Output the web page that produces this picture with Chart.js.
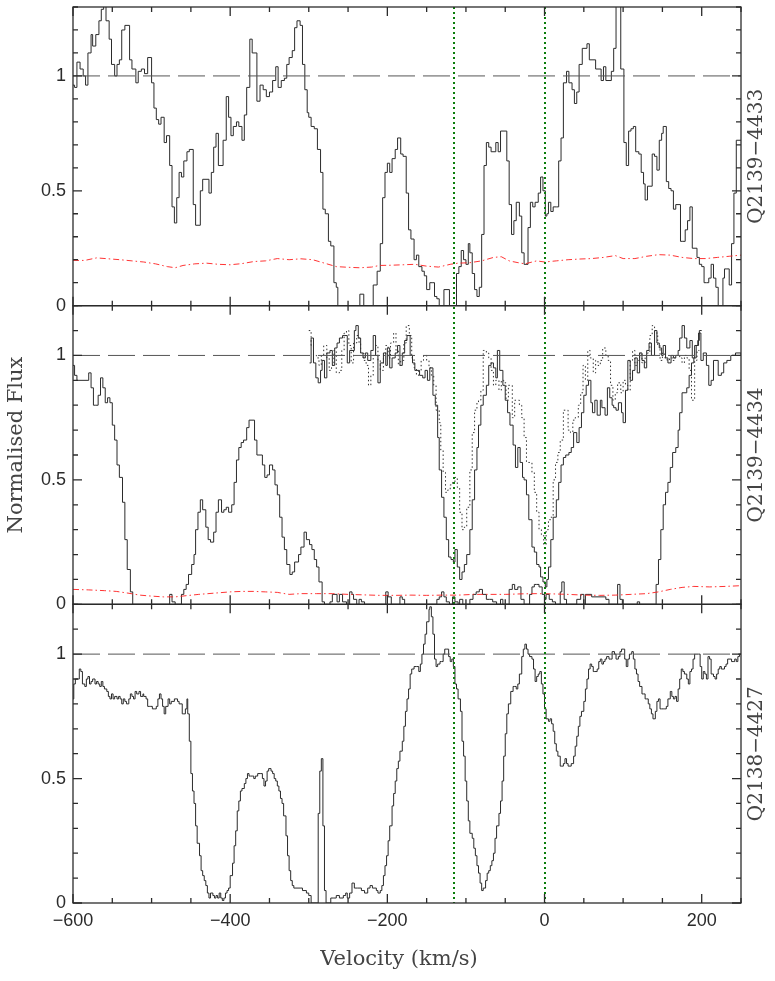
<!DOCTYPE html>
<html>
<head>
<meta charset="utf-8">
<title>Normalised flux - Q2139-4433 / Q2139-4434 / Q2138-4427</title>
<script src="https://cdn.jsdelivr.net/npm/chart.js@4.4.1/dist/chart.umd.min.js"></script>
<style>
    html, body { margin: 0; padding: 0; background: #fff; }
    #wrap { position: relative; width: 775px; height: 981px; }
</style>
</head>
<body>
<div id="wrap"><canvas id="spectra" width="775" height="981"></canvas></div>
<script>
// ================================================================
// DATA (velocity in km/s, normalised flux)
// ================================================================
const panelNames   = ['Q2139\u22124433', 'Q2139\u22124434', 'Q2138\u22124427'];
const panelMax     = [1.3, 1.2, 1.2];
const xTickLabels  = [-600, -400, -200, 0, 200];
const yTickLabels  = [0, 0.5, 1];
const markerVels   = [-115, 0];

// Q2139-4433
const topVel  = [-600,-598,-595,-591,-587,-584,-581,-577,-575,-571,-567,-564,-561,-558,-554,-551,-547,-544,-541,-538,-534,-528,-525,-520,-517,-513,-509,-505,-500,-497,-494,-491,-488,-484,-481,-477,-474,-471,-468,-465,-462,-459,-455,-452,-447,-444,-438,-435,-427,-424,-421,-418,-415,-409,-405,-402,-399,-396,-392,-389,-385,-382,-379,-375,-372,-366,-362,-358,-354,-350,-346,-342,-339,-335,-331,-328,-325,-321,-318,-315,-311,-308,-305,-302,-300,-297,-293,-289,-285,-282,-279,-275,-272,-268,-265,-263,-235,-230,-218,-213,-209,-206,-203,-200,-197,-194,-190,-187,-183,-180,-176,-173,-170,-166,-163,-160,-156,-153,-150,-146,-143,-140,-137,-134,-128,-121,-112,-109,-106,-103,-100,-97,-95,-92,-89,-86,-83,-80,-77,-74,-71,-68,-62,-59,-56,-48,-45,-42,-39,-36,-32,-29,-26,-21,-18,-15,-12,-8,-5,-2,1,3,5,8,11,15,18,21,24,28,31,35,38,41,44,48,54,57,65,72,75,78,85,88,91,97,101,104,107,110,113,116,120,123,126,128,131,137,140,143,146,149,151,155,158,161,164,167,173,176,179,182,185,188,194,197,200,203,206,209,212,215,218,221,227,229,232,235,238,241,244,250];
const topFlux = [0.96,0.95,1.06,1.03,1.00,0.96,1.10,1.18,1.13,1.18,1.24,1.29,1.34,1.24,1.16,1.05,1.00,1.05,1.07,1.20,1.22,1.07,1.03,0.97,1.02,1.03,1.01,1.08,0.97,0.86,0.81,0.79,0.82,0.71,0.74,0.61,0.43,0.36,0.47,0.58,0.56,0.63,0.67,0.68,0.44,0.35,0.50,0.55,0.49,0.58,0.69,0.75,0.61,0.72,0.91,0.82,0.74,0.78,0.80,0.78,0.72,0.83,0.95,1.16,1.10,0.89,0.96,0.94,0.91,0.93,0.98,1.04,0.95,0.98,0.99,1.05,1.08,1.11,1.21,1.24,1.22,1.05,0.94,0.84,0.82,0.78,0.77,0.68,0.58,0.42,0.40,0.28,0.26,0.10,0.08,0.00,0.05,0.00,0.09,0.15,0.27,0.47,0.58,0.62,0.58,0.64,0.68,0.73,0.66,0.65,0.49,0.33,0.29,0.20,0.22,0.17,0.15,0.13,0.07,0.10,0.10,0.04,0.03,0.00,0.07,0.00,0.14,0.17,0.24,0.20,0.18,0.27,0.23,0.14,0.07,0.04,0.08,0.31,0.61,0.71,0.69,0.67,0.71,0.67,0.76,0.63,0.44,0.31,0.37,0.45,0.39,0.23,0.18,0.34,0.45,0.43,0.45,0.49,0.56,0.50,0.39,0.40,0.45,0.41,0.43,0.43,0.63,0.73,0.97,1.02,0.97,0.94,0.88,0.93,1.05,1.12,1.14,1.07,1.03,0.98,1.04,0.98,1.02,1.12,1.35,1.03,0.71,0.61,0.76,0.77,0.78,0.67,0.66,0.58,0.53,0.46,0.52,0.66,0.65,0.59,0.72,0.75,0.78,0.54,0.51,0.50,0.42,0.44,0.28,0.28,0.33,0.37,0.43,0.25,0.21,0.18,0.17,0.10,0.10,0.12,0.18,0.12,0.08,0.00,0.12,0.16,0.16,0.09,0.27,0.49,0.72,0.72];
const topErrVel  = [-600,-585,-570,-555,-540,-525,-510,-495,-480,-470,-460,-445,-430,-415,-400,-385,-370,-355,-340,-325,-310,-295,-280,-265,-250,-235,-220,-210,-195,-180,-165,-150,-135,-120,-110,-95,-80,-65,-55,-45,-35,-25,-10,0,15,30,45,60,75,90,100,115,130,145,160,175,190,205,220,235,250];
const topErrFlux = [0.197,0.197,0.208,0.204,0.200,0.195,0.190,0.182,0.170,0.165,0.175,0.182,0.185,0.180,0.178,0.183,0.192,0.195,0.205,0.200,0.204,0.200,0.185,0.170,0.167,0.165,0.168,0.175,0.176,0.178,0.180,0.172,0.168,0.180,0.185,0.187,0.195,0.210,0.213,0.195,0.188,0.182,0.195,0.190,0.195,0.200,0.203,0.205,0.210,0.218,0.205,0.205,0.215,0.222,0.220,0.210,0.205,0.205,0.210,0.215,0.220];

// Q2139-4434 : three profiles + error
const midVelA  = [-600,-598,-595,-580,-577,-574,-571,-568,-565,-562,-559,-556,-553,-550,-547,-544,-541,-537,-534,-531,-527,-524,-477,-474,-470,-462,-459,-456,-453,-449,-446,-444,-441,-438,-435,-431,-428,-425,-421,-418,-415,-411,-408,-405,-402,-398,-395,-392,-389,-386,-383,-379,-376,-369,-366,-359,-356,-353,-350,-346,-343,-340,-337,-334,-331,-328,-324,-321,-318,-313,-310,-306,-303,-299,-296,-293,-290,-287,-283,-280,-273,-270,-264,-261,-257,-252,-248,-245,-243,-239,-236,-233,-229,-202,-199,-195,-184,-181,-178,-137,-134,-131,-128,-125,-121,-117,-114,-110,-108,-104,-95,-91,-87,-83,-79,-74,-70,-66,-61,-56,-53,-45,-41,-38,-34,-30,-26,-19,-16,-13,-10,-7,-3,0,2,6,10,14,20,22,25,28,41,46,50,52,60,78,82,93,96,99,118,121,142,145,148,151,154,157,160,163,167,170,172,175,181,184,187,190,193,196,199,202,206,209,212,215,221,225,228,232,237,243,250];
const midFluxA = [0.96,0.92,0.90,0.93,0.87,0.80,0.80,0.84,0.91,0.87,0.81,0.83,0.81,0.72,0.66,0.56,0.51,0.41,0.26,0.14,0.05,0.00,0.04,0.01,0.00,0.04,0.06,0.08,0.12,0.16,0.20,0.30,0.37,0.42,0.38,0.31,0.26,0.25,0.29,0.37,0.42,0.37,0.38,0.39,0.37,0.40,0.49,0.58,0.63,0.65,0.66,0.71,0.74,0.66,0.60,0.56,0.51,0.52,0.56,0.54,0.48,0.44,0.35,0.27,0.22,0.16,0.12,0.13,0.17,0.20,0.23,0.29,0.26,0.24,0.22,0.18,0.15,0.09,0.01,0.00,0.01,0.04,0.01,0.04,0.01,0.00,0.05,0.04,0.02,0.00,0.02,0.01,0.00,0.05,0.03,0.00,0.03,0.02,0.00,0.02,0.03,0.05,0.03,0.01,0.00,0.03,0.01,0.00,0.02,0.00,0.02,0.04,0.05,0.06,0.04,0.02,0.02,0.01,0.00,0.02,0.00,0.06,0.08,0.06,0.07,0.02,0.00,0.04,0.07,0.08,0.08,0.07,0.04,0.02,0.04,0.02,0.01,0.00,0.05,0.09,0.02,0.00,0.02,0.04,0.00,0.04,0.03,0.02,0.00,0.08,0.02,0.00,0.01,0.00,0.08,0.18,0.30,0.40,0.45,0.49,0.55,0.61,0.63,0.70,0.77,0.85,0.87,0.92,0.97,0.99,1.04,1.09,0.98,1.01,0.96,0.88,0.90,0.98,0.92,0.93,0.97,0.98,1.00,1.01,1.00];
const midVelB  = [-299,-297,-294,-291,-288,-285,-283,-280,-277,-273,-270,-267,-264,-261,-257,-254,-251,-248,-242,-240,-237,-234,-231,-228,-225,-221,-218,-215,-212,-209,-205,-202,-200,-197,-194,-190,-187,-184,-181,-178,-175,-171,-168,-165,-159,-155,-152,-149,-146,-142,-139,-136,-134,-131,-128,-125,-122,-119,-116,-114,-111,-108,-105,-102,-99,-95,-92,-89,-86,-84,-81,-78,-74,-71,-68,-65,-62,-60,-57,-53,-50,-47,-44,-40,-37,-34,-31,-28,-26,-23,-20,-16,-13,-10,-7,-5,-2,1,3,5,8,11,15,18,21,24,27,31,34,37,41,44,47,50,53,56,59,61,64,67,71,73,77,80,83,86,88,91,94,98,100,103,106,109,112,115,118,121,124,127,130,133,136,140,143,146,149,151,154,157,161,164,167,170,172,175,178,181,185,188,191,195,197,200];
const midFluxB = [0.97,1.07,0.97,0.91,0.89,0.94,0.98,0.91,1.01,1.02,0.96,1.03,1.05,1.07,1.08,1.08,0.97,1.02,1.10,1.12,1.07,1.01,0.99,1.01,0.98,1.02,1.08,1.00,0.89,0.97,1.01,0.96,1.03,0.95,0.99,1.01,1.04,0.96,1.01,1.06,1.08,1.00,0.97,0.94,0.92,0.91,0.94,0.90,0.95,0.84,0.80,0.67,0.54,0.43,0.35,0.26,0.19,0.18,0.17,0.22,0.15,0.10,0.13,0.16,0.20,0.30,0.42,0.54,0.63,0.72,0.80,0.84,0.88,0.96,0.97,0.95,0.91,1.02,0.94,0.88,0.82,0.77,0.72,0.64,0.55,0.63,0.57,0.51,0.50,0.44,0.34,0.23,0.21,0.16,0.15,0.11,0.09,0.07,0.10,0.15,0.26,0.35,0.42,0.49,0.56,0.59,0.60,0.61,0.63,0.69,0.65,0.71,0.77,0.84,0.88,0.90,0.81,0.77,0.82,0.76,0.82,0.79,0.76,0.87,0.83,0.80,0.79,0.78,0.81,0.77,0.73,0.86,0.98,0.90,0.94,0.99,0.93,1.01,0.98,0.95,1.02,1.05,1.00,1.10,1.05,1.03,1.00,1.04,0.99,0.97,1.00,0.99,1.00,1.02,1.07,1.12,1.07,1.03,1.06,0.99,1.04,1.06,1.10,1.10];
const midVelC  = [-300,-297,-294,-290,-287,-284,-281,-277,-274,-271,-268,-265,-261,-258,-255,-252,-249,-246,-243,-239,-236,-234,-230,-227,-224,-221,-218,-215,-212,-209,-205,-202,-199,-196,-192,-189,-186,-183,-179,-176,-172,-169,-166,-163,-160,-157,-154,-150,-147,-144,-141,-138,-134,-132,-129,-126,-123,-120,-117,-114,-111,-108,-105,-102,-99,-95,-92,-89,-86,-84,-81,-78,-74,-71,-68,-65,-62,-58,-55,-52,-49,-46,-43,-41,-38,-35,-32,-29,-26,-23,-20,-16,-13,-10,-7,-4,-1,2,5,8,11,14,17,20,24,27,30,33,36,39,43,46,49,52,55,58,62,65,68,71,74,78,81,84,87,90,93,97,100,103,106,109,112,115,118,121,124,128,131,134,137,140,144,147,150,153,156,159,163,166,172,175,178,181,184,187,191,194,197];
const midFluxC = [1.10,1.04,1.00,0.99,0.96,1.00,1.04,0.99,0.94,0.96,1.02,0.93,0.94,1.02,1.09,1.10,1.04,0.97,1.05,1.08,1.05,1.01,0.98,0.96,0.88,0.92,1.00,1.04,0.98,0.94,1.00,1.04,0.99,1.05,1.09,1.02,0.96,0.98,1.05,1.12,1.08,0.99,0.95,0.92,0.94,0.98,1.00,0.98,0.95,0.92,0.88,0.78,0.73,0.62,0.53,0.45,0.46,0.48,0.49,0.51,0.47,0.37,0.30,0.31,0.39,0.54,0.69,0.78,0.81,0.82,0.86,1.02,1.01,0.99,0.94,0.88,0.90,0.86,0.90,0.89,0.82,0.88,0.88,0.75,0.82,0.82,0.80,0.75,0.67,0.57,0.57,0.53,0.45,0.37,0.30,0.28,0.24,0.30,0.34,0.35,0.50,0.57,0.61,0.66,0.78,0.78,0.70,0.69,0.74,0.75,0.80,0.85,0.96,0.90,1.02,0.99,0.93,0.98,0.96,0.98,1.03,1.00,0.98,0.88,0.82,0.85,0.89,0.85,0.90,0.88,0.86,0.98,1.02,0.96,0.98,1.01,0.97,1.00,1.01,1.08,1.12,1.09,1.04,0.98,1.01,0.99,0.98,0.99,0.98,1.00,0.99,0.97,1.00,0.99,0.94,0.82,0.98,1.02,1.02];
const midErrVel  = [-600,-580,-560,-545,-530,-515,-500,-485,-470,-455,-440,-420,-400,-385,-370,-355,-340,-325,-310,-290,-270,-250,-230,-210,-190,-170,-150,-130,-110,-90,-70,-50,-30,-10,10,30,50,70,90,110,130,145,160,175,190,210,230,250];
const midErrFlux = [0.060,0.058,0.055,0.052,0.045,0.037,0.033,0.030,0.030,0.035,0.040,0.045,0.050,0.052,0.052,0.050,0.048,0.040,0.043,0.043,0.043,0.040,0.038,0.036,0.036,0.037,0.036,0.037,0.037,0.040,0.040,0.040,0.042,0.043,0.042,0.040,0.037,0.036,0.037,0.040,0.043,0.050,0.060,0.068,0.072,0.070,0.072,0.075];

// Q2138-4427
const botVel  = [-600,-599,-597,-594,-592,-590,-588,-585,-583,-581,-579,-577,-575,-572,-570,-568,-566,-564,-562,-560,-557,-555,-553,-551,-549,-547,-544,-542,-540,-538,-536,-534,-532,-529,-527,-525,-523,-521,-519,-516,-514,-511,-510,-507,-505,-503,-501,-499,-496,-494,-492,-490,-488,-486,-484,-482,-479,-477,-475,-471,-467,-465,-461,-459,-457,-455,-454,-452,-450,-448,-446,-444,-442,-439,-437,-435,-433,-431,-429,-427,-425,-422,-420,-418,-416,-414,-412,-410,-408,-406,-404,-402,-400,-397,-395,-393,-391,-389,-387,-385,-382,-380,-378,-376,-374,-372,-370,-368,-365,-361,-359,-357,-355,-353,-351,-348,-346,-344,-342,-340,-338,-336,-334,-332,-329,-327,-325,-323,-321,-319,-310,-308,-303,-300,-297,-288,-286,-284,-282,-280,-278,-272,-269,-265,-261,-256,-253,-251,-248,-245,-242,-238,-233,-229,-225,-222,-219,-214,-212,-209,-207,-205,-203,-201,-199,-197,-194,-192,-190,-188,-186,-184,-181,-179,-177,-175,-173,-171,-169,-166,-163,-160,-158,-156,-154,-152,-150,-147,-146,-144,-142,-140,-138,-136,-133,-131,-129,-127,-125,-122,-120,-118,-116,-114,-112,-110,-107,-105,-103,-101,-99,-97,-95,-92,-90,-88,-86,-84,-82,-80,-78,-75,-73,-71,-69,-67,-65,-63,-61,-58,-56,-54,-52,-50,-48,-46,-43,-40,-38,-36,-34,-32,-29,-27,-25,-23,-21,-19,-16,-14,-12,-10,-8,-6,-4,-2,0,2,5,7,9,11,13,15,17,20,22,24,26,28,30,34,37,39,41,43,45,47,50,52,54,56,58,60,62,64,67,69,71,73,75,77,79,82,84,86,89,91,94,96,98,100,102,104,106,108,111,113,115,117,119,121,124,126,128,130,132,134,136,138,141,143,145,147,149,151,153,155,157,160,162,164,166,168,170,172,174,176,178,181,183,185,187,189,191,194,196,198,200,202,204,206,208,210,212,215,217,219,221,223,225,227,229,231,233,236,238,240,242,244,246,248,250];
const botFlux = [0.82,0.88,0.90,0.90,0.94,0.93,0.88,0.87,0.90,0.91,0.88,0.89,0.90,0.88,0.89,0.88,0.87,0.89,0.87,0.86,0.85,0.83,0.82,0.84,0.82,0.83,0.82,0.83,0.82,0.80,0.82,0.81,0.80,0.82,0.84,0.83,0.82,0.85,0.84,0.85,0.83,0.84,0.83,0.82,0.79,0.79,0.79,0.78,0.78,0.79,0.82,0.84,0.82,0.79,0.76,0.79,0.82,0.80,0.81,0.82,0.81,0.80,0.76,0.76,0.78,0.82,0.76,0.65,0.52,0.45,0.40,0.31,0.24,0.19,0.13,0.11,0.09,0.07,0.04,0.02,0.04,0.03,0.02,0.03,0.02,0.04,0.02,0.01,0.02,0.04,0.05,0.06,0.11,0.16,0.23,0.29,0.37,0.41,0.45,0.46,0.48,0.50,0.52,0.51,0.51,0.51,0.50,0.51,0.52,0.52,0.50,0.47,0.49,0.53,0.54,0.53,0.52,0.50,0.49,0.47,0.45,0.42,0.40,0.35,0.27,0.19,0.13,0.09,0.07,0.06,0.06,0.05,0.04,0.03,0.00,0.36,0.53,0.58,0.31,0.05,0.00,0.02,0.02,0.03,0.02,0.03,0.04,0.02,0.04,0.08,0.06,0.06,0.05,0.04,0.06,0.07,0.06,0.05,0.04,0.05,0.07,0.11,0.15,0.19,0.25,0.31,0.39,0.44,0.49,0.54,0.57,0.61,0.65,0.71,0.77,0.82,0.86,0.92,0.94,0.95,0.95,0.93,0.96,1.00,1.04,1.08,1.13,1.18,1.19,1.15,1.08,0.98,0.95,0.96,0.97,0.97,1.00,1.02,1.02,0.99,0.97,0.98,0.95,0.88,0.86,0.82,0.77,0.65,0.59,0.49,0.41,0.33,0.28,0.26,0.22,0.19,0.15,0.12,0.08,0.05,0.06,0.09,0.12,0.13,0.15,0.17,0.20,0.26,0.31,0.36,0.41,0.49,0.59,0.68,0.76,0.80,0.85,0.87,0.87,0.86,0.88,0.92,0.99,1.02,1.04,1.02,1.00,0.99,0.98,0.94,0.89,0.91,0.92,0.93,0.88,0.84,0.78,0.74,0.73,0.74,0.72,0.69,0.64,0.61,0.59,0.55,0.55,0.56,0.58,0.56,0.55,0.56,0.59,0.63,0.67,0.71,0.75,0.77,0.81,0.86,0.90,0.94,0.96,0.95,0.93,0.93,0.94,0.97,0.98,0.96,0.97,0.98,0.99,0.98,0.98,1.01,1.00,0.98,0.99,1.01,1.02,1.02,0.98,0.95,0.98,1.00,1.01,0.98,0.94,0.92,0.89,0.87,0.84,0.84,0.82,0.82,0.80,0.78,0.76,0.74,0.77,0.81,0.82,0.78,0.78,0.78,0.78,0.79,0.82,0.85,0.83,0.82,0.83,0.81,0.86,0.90,0.94,0.93,0.92,0.90,0.88,0.93,0.94,0.98,1.00,1.00,1.00,0.95,0.90,0.93,0.92,0.90,0.99,0.98,0.92,0.91,0.90,0.92,0.94,0.95,0.94,0.94,0.95,0.96,0.98,0.98,0.97,0.97,0.98,0.97,0.99,1.00,1.00];

// ================================================================
// HELPERS
// ================================================================
const pts = (vel, flux) => vel.map((v, i) => ({ x: v, y: flux[i] }));
const unity = [{ x: -600, y: 1 }, { x: 250, y: 1 }];
const minus = v => String(v).replace('-', '\u2212');

const INK   = '#2b2b2b';
const serif = '"DejaVu Serif", "Liberation Serif", serif';
const sans  = '"Liberation Sans", Arial, sans-serif';

function spectrum(data, axis, extra) {
    return Object.assign({ data, yAxisID: axis, borderColor: INK, borderWidth: 1, stepped: 'before', pointRadius: 0, fill: false }, extra || {});
}
function errorLine(data, axis) {
    return { data, yAxisID: axis, borderColor: 'rgba(255,30,30,0.9)', borderWidth: 1, borderDash: [6, 3, 1.5, 3], pointRadius: 0, fill: false, tension: 0 };
}
function unityLine(axis) {
    return { data: unity, yAxisID: axis, borderColor: '#555', borderWidth: 1, borderDash: [27, 8], pointRadius: 0, fill: false };
}

// no extra label padding: the panel frames must sit exactly on the layout box
function noPad(s) { s.paddingTop = 0; s.paddingBottom = 0; s.paddingLeft = 0; s.paddingRight = 0; }

function panelScale(i) {
    return {
        type: 'linear', position: 'left', stack: 'panels', stackWeight: 1, weight: 3 - i,
        min: 0, max: panelMax[i],
        grid: { display: false, drawTicks: false }, border: { display: false },
        afterBuildTicks: s => { s.ticks = yTickLabels.map(v => ({ value: v })); },
        ticks: { padding: 7, color: INK, font: { family: sans, size: 18 }, callback: v => String(v) },
        afterFit: s => { s.width = 73; noPad(s); }
    };
}

// ================================================================
// FRAMES, TICKS, MARKERS & LABELS
// ================================================================
const framePlugin = {
    id: 'frames',
    afterDatasetsDraw(chart) {
        const { ctx, chartArea: a, scales } = chart;
        const xs = scales.x;
        ctx.save();

        // green velocity markers
        ctx.strokeStyle = '#0a7d0a'; ctx.lineWidth = 2; ctx.setLineDash([2, 3]);
        markerVels.forEach(v => {
            const px = Math.round(xs.getPixelForValue(v));
            ctx.beginPath(); ctx.moveTo(px, a.top); ctx.lineTo(px, a.bottom); ctx.stroke();
        });
        ctx.setLineDash([]);

        ctx.strokeStyle = INK; ctx.lineWidth = 1.3;
        ['yTop', 'yMid', 'yBot'].forEach((id, i) => {
            const ys = scales[id];
            ctx.strokeRect(a.left, ys.top, a.right - a.left, ys.bottom - ys.top);
            ctx.beginPath();
            for (let k = 0; k <= Math.round(panelMax[i] * 10); k++) {
                const py = ys.getPixelForValue(k / 10);
                const len = k % 5 === 0 ? 9 : 5;
                ctx.moveTo(a.left, py);  ctx.lineTo(a.left + len, py);
                ctx.moveTo(a.right, py); ctx.lineTo(a.right - len, py);
            }
            for (let v = -600; v <= 250; v += 50) {
                const px = xs.getPixelForValue(v);
                const len = v % 200 === 0 ? 9 : 5;
                ctx.moveTo(px, ys.top);    ctx.lineTo(px, ys.top + len);
                ctx.moveTo(px, ys.bottom); ctx.lineTo(px, ys.bottom - len);
            }
            ctx.stroke();

            // object name on the right
            ctx.save();
            ctx.translate(757, (ys.top + ys.bottom) / 2);
            ctx.rotate(-Math.PI / 2);
            ctx.fillStyle = '#444'; ctx.font = '20px ' + serif;
            ctx.textAlign = 'center'; ctx.textBaseline = 'middle';
            ctx.fillText(panelNames[i], 0, 0);
            ctx.restore();
        });

        // axis titles
        ctx.fillStyle = '#444'; ctx.font = '21px ' + serif;
        ctx.textAlign = 'center'; ctx.textBaseline = 'middle';
        ctx.fillText('Velocity (km/s)', (a.left + a.right) / 2 - 8, 960);
        ctx.translate(17, 445);
        ctx.rotate(-Math.PI / 2);
        ctx.fillText('Normalised Flux', 0, 0);
        ctx.restore();
    }
};

// ================================================================
// CHART
// ================================================================
new Chart(document.getElementById('spectra').getContext('2d'), {
    type: 'line',
    data: {
        datasets: [
            unityLine('yTop'),
            errorLine(pts(topErrVel, topErrFlux), 'yTop'),
            spectrum(pts(topVel, topFlux), 'yTop'),

            unityLine('yMid'),
            errorLine(pts(midErrVel, midErrFlux), 'yMid'),
            spectrum(pts(midVelC, midFluxC), 'yMid', { borderDash: [1.5, 2.5], borderColor: '#333' }),
            spectrum(pts(midVelA, midFluxA), 'yMid'),
            spectrum(pts(midVelB, midFluxB), 'yMid'),

            unityLine('yBot'),
            spectrum(pts(botVel, botFlux), 'yBot')
        ]
    },
    options: {
        responsive: false,
        animation: false,
        layout: { padding: { top: 7, right: 34, bottom: 0, left: 0 } },
        plugins: { legend: { display: false }, tooltip: { enabled: false } },
        scales: {
            x: {
                type: 'linear', min: -600, max: 250,
                grid: { display: false, drawTicks: false }, border: { display: false },
                afterBuildTicks: s => { s.ticks = xTickLabels.map(v => ({ value: v })); },
                ticks: { padding: 7, color: INK, font: { family: sans, size: 18 }, maxRotation: 0, autoSkip: false, callback: v => minus(v) },
                afterFit: s => { s.height = 78; noPad(s); }
            },
            yTop: panelScale(0),
            yMid: panelScale(1),
            yBot: panelScale(2)
        }
    },
    plugins: [framePlugin]
});
</script>
</body>
</html>
